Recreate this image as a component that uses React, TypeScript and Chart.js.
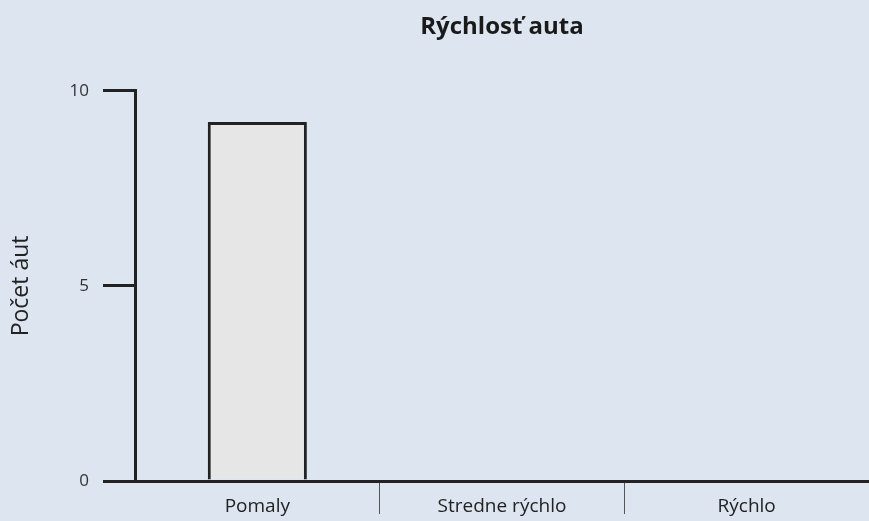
import React, { useEffect, useRef } from "react";
import { Chart, registerables } from "chart.js";

Chart.register(...registerables);

const categories = ["Pomaly", "Stredne rýchlo", "Rýchlo"];
const counts = [9.2, 0, 0];
const yTickValues = [0, 5, 10];
const chartTitle = "Rýchlosť auta";
const yAxisTitle = "Počet áut";

const FONT = "'Open Sans', 'Noto Sans', sans-serif";

export default function App() {
  const ref = useRef<HTMLCanvasElement>(null);

  useEffect(() => {
    if (!ref.current) return;
    const chart = new Chart(ref.current, {
      type: "bar",
      data: {
        labels: categories,
        datasets: [
          {
            data: counts,
            backgroundColor: "#e6e6e6",
            borderColor: "#222222",
            borderWidth: 3,
            categoryPercentage: 1,
            barPercentage: 0.405,
          },
        ],
      },
      options: {
        animation: false,
        responsive: false,
        maintainAspectRatio: false,
        layout: { padding: 0 },
        plugins: {
          legend: { display: false },
          tooltip: { enabled: false },
          title: {
            display: true,
            text: chartTitle,
            fullSize: false,
            color: "#1a1a1a",
            font: { family: FONT, size: 24, weight: "bold" },
            padding: { top: 13, bottom: 49 },
          },
        },
        scales: {
          x: {
            grid: {
              offset: true,
              drawOnChartArea: false,
              drawTicks: true,
              tickLength: 33,
              lineWidth: 1,
              color: (ctx: any) =>
                ctx.index === 1 || ctx.index === 2 ? "#555555" : "rgba(0,0,0,0)",
            },
            border: { display: true, color: "#222222", width: 3 },
            ticks: {
              color: "#222222",
              font: { family: FONT, size: 19 },
              padding: -19,
              maxRotation: 0,
            },
            afterFit: (s: any) => {
              s.height = 40;
            },
          },
          y: {
            min: 0,
            max: 10,
            afterBuildTicks: (s: any) => {
              s.ticks = yTickValues.map((v) => ({ value: v }));
            },
            grid: {
              drawOnChartArea: false,
              drawTicks: true,
              tickLength: 32,
              lineWidth: 3,
              color: "#222222",
            },
            border: { display: true, color: "#222222", width: 3 },
            ticks: {
              color: "#333333",
              font: { family: FONT, size: 17 },
              padding: 14,
            },
            title: {
              display: true,
              text: yAxisTitle,
              color: "#222222",
              font: { family: FONT, size: 23 },
              padding: { top: 8, bottom: 0 },
            },
            afterFit: (s: any) => {
              s.width = 135;
            },
          },
        },
      },
    });
    return () => chart.destroy();
  }, []);

  return (
    <div
      style={{
        position: "absolute",
        left: 0,
        top: 0,
        width: 869,
        height: 521,
        background: "#dce5f0",
      }}
    >
      <canvas ref={ref} width={869} height={521} style={{ display: "block" }} />
    </div>
  );
}
